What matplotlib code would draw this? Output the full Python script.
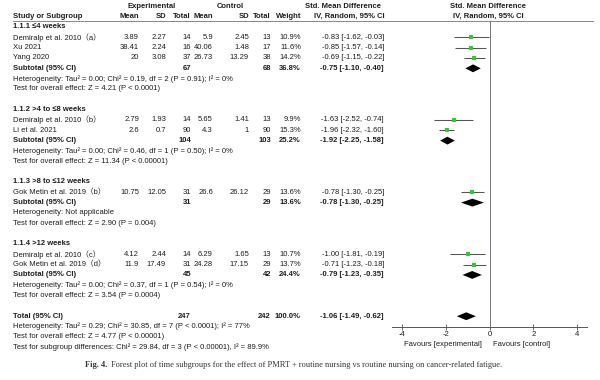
import matplotlib
matplotlib.use("Agg")
import matplotlib.pyplot as plt

plt.rcParams['font.family'] = ['Liberation Sans', 'Noto Sans CJK SC', 'DejaVu Sans']

# ---- data ----
groups = ["1.1.1 ≤4 weeks", "1.1.2 >4 to ≤8 weeks", "1.1.3 >8 to ≤12 weeks", "1.1.4 >12 weeks"]
study_group = [0, 0, 0, 1, 1, 2, 3, 3]
studies = ["Demiralp et al. 2010（a）", "Xu 2021", "Yang 2020",
           "Demiralp et al. 2010（b）", "Li et al. 2021",
           "Gok Metin et al. 2019（b）",
           "Demiralp et al. 2010（c）", "Gok Metin et al. 2019（d）"]
exp_mean = ["3.89", "38.41", "20", "2.79", "2.6", "10.75", "4.12", "11.9"]
exp_sd = ["2.27", "2.24", "3.08", "1.93", "0.7", "12.05", "2.44", "17.49"]
exp_n = [14, 16, 37, 14, 90, 31, 14, 31]
ctl_mean = ["5.9", "40.06", "26.73", "5.65", "4.3", "26.6", "6.29", "24.28"]
ctl_sd = ["2.45", "1.48", "13.29", "1.41", "1", "26.12", "1.65", "17.15"]
ctl_n = [13, 17, 38, 13, 90, 29, 13, 29]
weight = [10.9, 11.6, 14.2, 9.9, 15.3, 13.6, 10.7, 13.7]
smd = [-0.83, -0.85, -0.69, -1.63, -1.96, -0.78, -1.00, -0.71]
ci_lo = [-1.62, -1.57, -1.15, -2.52, -2.32, -1.30, -1.81, -1.23]
ci_hi = [-0.03, -0.14, -0.22, -0.74, -1.60, -0.25, -0.19, -0.18]

sub_exp_n = [67, 104, 31, 45]
sub_ctl_n = [68, 103, 29, 42]
sub_weight = [36.8, 25.2, 13.6, 24.4]
sub_smd = [-0.75, -1.92, -0.78, -0.79]
sub_lo = [-1.10, -2.25, -1.30, -1.23]
sub_hi = [-0.40, -1.58, -0.25, -0.35]
sub_het = ["Heterogeneity: Tau² = 0.00; Chi² = 0.19, df = 2 (P = 0.91); I² = 0%",
           "Heterogeneity: Tau² = 0.00; Chi² = 0.46, df = 1 (P = 0.50); I² = 0%",
           "Heterogeneity: Not applicable",
           "Heterogeneity: Tau² = 0.00; Chi² = 0.37, df = 1 (P = 0.54); I² = 0%"]
sub_test = ["Test for overall effect: Z = 4.21 (P < 0.0001)",
            "Test for overall effect: Z = 11.34 (P < 0.00001)",
            "Test for overall effect: Z = 2.90 (P = 0.004)",
            "Test for overall effect: Z = 3.54 (P = 0.0004)"]

total_exp_n, total_ctl_n, total_weight = 247, 242, 100.0
total_smd, total_lo, total_hi = -1.06, -1.49, -0.62
total_notes = ["Heterogeneity: Tau² = 0.29; Chi² = 30.85, df = 7 (P < 0.0001); I² = 77%",
               "Test for overall effect: Z = 4.77 (P < 0.00001)",
               "Test for subgroup differences: Chi² = 29.84, df = 3 (P < 0.00001), I² = 89.9%"]
xticks = [-4, -2, 0, 2, 4]

# ---- layout ----
W, H = 600, 380
FS = 5.5
TXT = '#1e1e1e'
GREEN = '#2ecc2e'
row_y0, row_h = 27, 10.33
ax_left, ax_right, ax_top, ax_bottom = 392, 587, 20.7, 327

fig = plt.figure(figsize=(W / 100, H / 100), dpi=100)
tab = fig.add_axes([0, 0, 1, 1])
tab.set_xlim(0, W)
tab.set_ylim(H, 0)
tab.axis('off')

ax = fig.add_axes([ax_left / W, 1 - ax_bottom / H, (ax_right - ax_left) / W, (ax_bottom - ax_top) / H])
ax.set_xlim(-4.45, 4.45)
ax.set_ylim((ax_bottom - row_y0) / row_h, (ax_top - row_y0) / row_h)
ax.patch.set_alpha(0)
for s in ['top', 'left', 'right']:
    ax.spines[s].set_visible(False)
ax.spines['bottom'].set_color('#555555')
ax.spines['bottom'].set_linewidth(0.7)
ax.set_yticks([])
ax.set_xticks(xticks)
ax.set_xticklabels([str(t) for t in xticks])
ax.tick_params(axis='x', direction='inout', length=4, width=0.6, pad=1,
               labelsize=FS, colors='#555555', labelcolor=TXT)
ax.axvline(0, color='#777777', lw=0.7)

col_x = [139, 166, 191, 213, 249, 271, 301, 384]


def y_of(r):
    return row_y0 + row_h * r


def txt(x, r, s, ha='left', bold=False, **kw):
    tab.text(x, y_of(r), s, ha=ha, va='center', fontsize=FS, color=TXT,
             fontweight='bold' if bold else 'normal', **kw)


def diamond(r, est, lo, hi):
    h = 0.38
    ax.fill([lo, est, hi, est], [r, r - h, r, r + h], color='black', lw=0)


# headers
tab.text(152, 6, "Experimental", ha='center', va='center', fontsize=FS, fontweight='bold', color=TXT)
tab.text(230, 6, "Control", ha='center', va='center', fontsize=FS, fontweight='bold', color=TXT)
tab.text(343, 6, "Std. Mean Difference", ha='center', va='center', fontsize=FS, fontweight='bold', color=TXT)
tab.text(488, 6, "Std. Mean Difference", ha='center', va='center', fontsize=FS, fontweight='bold', color=TXT)
hdr = ["Mean", "SD", "Total", "Mean", "SD", "Total", "Weight"]
tab.text(13, 16.5, "Study or Subgroup", ha='left', va='center', fontsize=FS, fontweight='bold', color=TXT)
for x, h in zip(col_x[:7], hdr):
    tab.text(x, 16.5, h, ha='right', va='center', fontsize=FS, fontweight='bold', color=TXT)
tab.text(349, 16.5, "IV, Random, 95% CI", ha='center', va='center', fontsize=FS, fontweight='bold', color=TXT)
tab.text(488, 16.5, "IV, Random, 95% CI", ha='center', va='center', fontsize=FS, fontweight='bold', color=TXT)
tab.plot([13, 593], [ax_top, ax_top], color='#888888', lw=0.7)

row = 0
for g, name in enumerate(groups):
    txt(13, row, name, bold=True)
    row += 1
    for i in [k for k, sg in enumerate(study_group) if sg == g]:
        txt(13, row, studies[i])
        vals = [exp_mean[i], exp_sd[i], str(exp_n[i]), ctl_mean[i], ctl_sd[i], str(ctl_n[i]),
                f"{weight[i]:.1f}%", f"{smd[i]:.2f} [{ci_lo[i]:.2f}, {ci_hi[i]:.2f}]"]
        for x, v in zip(col_x, vals):
            txt(x, row, v, ha='right')
        ax.hlines(row, ci_lo[i], ci_hi[i], color='#555555', lw=0.75)
        ax.plot(smd[i], row, 's', color=GREEN, ms=2.2 + weight[i] * 0.01, mew=0,
                zorder=3, snap=False)
        row += 1
    txt(13, row, "Subtotal (95% CI)", bold=True)
    txt(col_x[2], row, str(sub_exp_n[g]), ha='right', bold=True)
    txt(col_x[5], row, str(sub_ctl_n[g]), ha='right', bold=True)
    txt(col_x[6], row, f"{sub_weight[g]:.1f}%", ha='right', bold=True)
    txt(col_x[7], row, f"{sub_smd[g]:.2f} [{sub_lo[g]:.2f}, {sub_hi[g]:.2f}]", ha='right', bold=True)
    diamond(row, sub_smd[g], sub_lo[g], sub_hi[g])
    row += 1
    txt(13, row, sub_het[g])
    row += 1
    txt(13, row, sub_test[g])
    row += 2

txt(13, row, "Total (95% CI)", bold=True)
txt(col_x[2], row, str(total_exp_n), ha='right', bold=True)
txt(col_x[5], row, str(total_ctl_n), ha='right', bold=True)
txt(col_x[6], row, f"{total_weight:.1f}%", ha='right', bold=True)
txt(col_x[7], row, f"{total_smd:.2f} [{total_lo:.2f}, {total_hi:.2f}]", ha='right', bold=True)
diamond(row, total_smd, total_lo, total_hi)
for note in total_notes:
    row += 1
    txt(13, row, note)

tab.text(482, 345, "Favours [experimental]", ha='right', va='center', fontsize=FS, color=TXT)
tab.text(493, 345, "Favours [control]", ha='left', va='center', fontsize=FS, color=TXT)

# caption
cap1 = tab.text(85, 365, "Fig. 4.", ha='left', va='center', fontsize=6.0,
                fontweight='bold', family='Liberation Serif', color='#333333')
tab.annotate("Forest plot of time subgroups for the effect of PMRT + routine nursing vs routine nursing on cancer-related fatigue.",
             xy=(1, 0.5), xycoords=cap1, xytext=(2.5, 0), textcoords='offset points',
             ha='left', va='center', fontsize=6.0, family='Liberation Serif', color='#333333')

fig.savefig('out.png', dpi=100)
